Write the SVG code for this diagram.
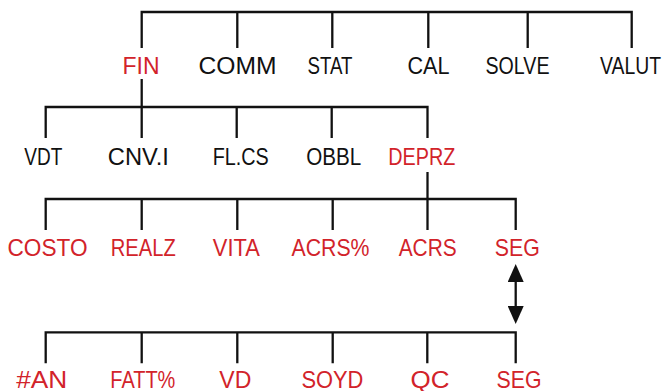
<svg xmlns="http://www.w3.org/2000/svg" width="668" height="391" viewBox="0 0 668 391">
  <style>
    text { font-family: "Liberation Sans", Arial, sans-serif; font-size: 24px; text-anchor: middle; }
    .k { fill: #111111; }
    .r { fill: #d2232a; }
    .ln { fill: none; stroke: #111111; stroke-width: 2.3; stroke-linejoin: miter; stroke-linecap: butt; }
  </style>
  <defs>
    <marker id="ah" viewBox="0 0 18 16" refX="14" refY="8" markerWidth="18" markerHeight="16" markerUnits="userSpaceOnUse" orient="auto-start-reverse">
      <path d="M0,0 L18,8 L0,16 Z" fill="#111111"/>
    </marker>
  </defs>
  <rect width="668" height="391" fill="#ffffff"/>

  <g id="connectors">
    <path class="ln" d="M141.7,48 V12 H631.7 V48 M237.3,12 V48 M332.3,12 V48 M428.3,12 V48 M527.7,12 V48"/>
    <path class="ln" d="M141.7,79 V107"/>
    <path class="ln" d="M45.7,138 V107 H427.5 V138 M141.7,107 V138 M236.7,107 V138 M331.7,107 V138"/>
    <path class="ln" d="M427.5,172 V199"/>
    <path class="ln" d="M45.7,230 V199 H515.7 V230 M141.7,199 V230 M237.3,199 V230 M332.7,199 V230 M427.5,199 V230"/>
    <line class="ln" x1="515.7" y1="268" x2="515.7" y2="320" marker-start="url(#ah)" marker-end="url(#ah)"/>
    <path class="ln" d="M45.7,363.3 V332.3 H515.7 V363.3 M141.7,332.3 V363.3 M237.3,332.3 V363.3 M332.7,332.3 V363.3 M427.3,332.3 V363.3"/>
  </g>

  <g id="fin"><text class="r" x="141" y="74" textLength="37" lengthAdjust="spacingAndGlyphs">FIN</text></g>
  <g id="comm"><text class="k" x="237.5" y="74" textLength="78" lengthAdjust="spacingAndGlyphs">COMM</text></g>
  <g id="stat"><text class="k" x="330" y="74" textLength="45" lengthAdjust="spacingAndGlyphs">STAT</text></g>
  <g id="cal"><text class="k" x="428.5" y="74" textLength="42" lengthAdjust="spacingAndGlyphs">CAL</text></g>
  <g id="solve"><text class="k" x="517.5" y="74" textLength="64" lengthAdjust="spacingAndGlyphs">SOLVE</text></g>
  <g id="valut"><text class="k" x="661" y="74" style="text-anchor:end" textLength="61" lengthAdjust="spacingAndGlyphs">VALUT</text></g>

  <g id="vdt"><text class="k" x="43.3" y="165" textLength="38" lengthAdjust="spacingAndGlyphs">VDT</text></g>
  <g id="cnvi"><text class="k" x="138.3" y="165" textLength="61" lengthAdjust="spacingAndGlyphs">CNV.I</text></g>
  <g id="flcs"><text class="k" x="240.8" y="165" textLength="56" lengthAdjust="spacingAndGlyphs">FL.CS</text></g>
  <g id="obbl"><text class="k" x="333.8" y="165" textLength="55" lengthAdjust="spacingAndGlyphs">OBBL</text></g>
  <g id="deprz"><text class="r" x="421.8" y="165" textLength="67" lengthAdjust="spacingAndGlyphs">DEPRZ</text></g>

  <g id="costo"><text class="r" x="47.5" y="256" textLength="80" lengthAdjust="spacingAndGlyphs">COSTO</text></g>
  <g id="realz"><text class="r" x="143.3" y="256" textLength="65" lengthAdjust="spacingAndGlyphs">REALZ</text></g>
  <g id="vita"><text class="r" x="236.3" y="256" textLength="47" lengthAdjust="spacingAndGlyphs">VITA</text></g>
  <g id="acrsp"><text class="r" x="330.5" y="256" textLength="78" lengthAdjust="spacingAndGlyphs">ACRS%</text></g>
  <g id="acrs"><text class="r" x="427.7" y="256" textLength="58" lengthAdjust="spacingAndGlyphs">ACRS</text></g>
  <g id="seg1"><text class="r" x="517.3" y="256" textLength="45" lengthAdjust="spacingAndGlyphs">SEG</text></g>

  <g id="an"><text class="r" x="41.7" y="387.5" textLength="51" lengthAdjust="spacingAndGlyphs">#AN</text></g>
  <g id="fatt"><text class="r" x="142.8" y="387.5" textLength="65" lengthAdjust="spacingAndGlyphs">FATT%</text></g>
  <g id="vd"><text class="r" x="235.3" y="387.5" textLength="32" lengthAdjust="spacingAndGlyphs">VD</text></g>
  <g id="soyd"><text class="r" x="332.4" y="387.5" textLength="62" lengthAdjust="spacingAndGlyphs">SOYD</text></g>
  <g id="qc"><text class="r" x="430" y="387.5" textLength="39" lengthAdjust="spacingAndGlyphs">QC</text></g>
  <g id="seg2"><text class="r" x="519" y="387.5" textLength="45" lengthAdjust="spacingAndGlyphs">SEG</text></g>
</svg>
